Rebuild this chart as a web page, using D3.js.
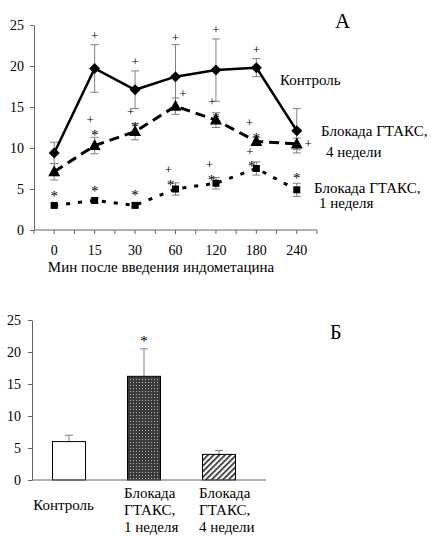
<!DOCTYPE html>
<html><head><meta charset="UTF-8"><script src="https://cdnjs.cloudflare.com/ajax/libs/d3/7.8.5/d3.min.js"></script></head>
<body style="margin:0">
<script>
// ---- panel A data ----
const minutes = ["0", "15", "30", "60", "120", "180", "240"];
const control = [9.4, 19.7, 17.1, 18.7, 19.5, 19.8, 12.1];
const controlErr = [1.3, 2.9, 2.3, 3.9, 3.8, 1.1, 2.7];
const weeks4 = [7.1, 10.3, 12.0, 15.1, 13.4, 10.8, 10.5];
const weeks4Err = [1.0, 1.0, 1.0, 1.0, 0.9, 0.5, 0.7];
const week1 = [3.0, 3.6, 3.0, 5.0, 5.7, 7.5, 4.9];
const week1Err = [0.2, 0.3, 0.2, 0.75, 0.7, 0.8, 0.8];
// significance marks (value on y scale where the mark sits, null = none)
const controlPlus = [null, 23.7, 20.5, 23.5, 24.4, 22.0, null];
const weeks4Plus = [null, 13.4, 14.4, 16.6, 15.7, 13.1, 10.5];
const weeks4Star = [null, 12.0, 13.0, null, 14.1, 11.6, null];
const week1Plus = [null, null, null, 7.4, 8.0, 9.6, null];
const week1Star = [4.6, 5.2, 4.7, 5.9, 6.5, 8.2, 6.7];
const yTicksA = [0, 5, 10, 15, 20, 25];

// ---- panel Б data ----
const groups = [["Контроль"], ["Блокада", "ГТАКС,", "1 неделя"], ["Блокада", "ГТАКС,", "4 недели"]];
const barValues = [6.0, 16.2, 4.0];
const barErr = [1.0, 4.3, 0.6];
const barStar = [null, 22.2, null];
const yTicksB = [0, 5, 10, 15, 20, 25];

const FONT = "Liberation Serif";
const ERR = "#808080";
const svg = d3.select("body").append("svg")
  .attr("width", 434).attr("height", 536)
  .attr("font-family", FONT);

const defs = svg.append("defs");
const p1 = defs.append("pattern").attr("id", "grid").attr("patternUnits", "userSpaceOnUse")
  .attr("width", 3).attr("height", 3);
p1.append("rect").attr("width", 3).attr("height", 3).attr("fill", "#3a3a3a");
p1.append("rect").attr("x", 1).attr("y", 1).attr("width", 1).attr("height", 1).attr("fill", "#b0b0b0");
const p2 = defs.append("pattern").attr("id", "diag").attr("patternUnits", "userSpaceOnUse")
  .attr("width", 4).attr("height", 4).attr("patternTransform", "rotate(45)");
p2.append("rect").attr("width", 4).attr("height", 4).attr("fill", "#fff");
p2.append("rect").attr("width", 1.6).attr("height", 4).attr("fill", "#222");

// ================= panel A =================
const x = d3.scaleBand().domain(minutes).range([34, 317]);
const y = d3.scaleLinear().domain([0, 25]).range([230, 25]);
const cx = d => x(d) + x.bandwidth() / 2;

const gA = svg.append("g");

const yAxis = gA.append("g").attr("transform", "translate(34,0)")
  .call(d3.axisLeft(y).tickValues(yTicksA).tickSize(4).tickSizeOuter(0).tickPadding(6));
yAxis.attr("font-family", FONT).attr("font-size", 14);
yAxis.select(".domain").attr("stroke", "#666");
yAxis.selectAll(".tick line").attr("stroke", "#666");

// x axis: ticks at centres and band edges
gA.append("line").attr("x1", 34).attr("x2", 317).attr("y1", y(0)).attr("y2", y(0))
  .attr("stroke", "#666");
const xt = [];
minutes.forEach(m => { xt.push(x(m)); xt.push(cx(m)); });
xt.push(x(minutes[minutes.length - 1]) + x.bandwidth());
gA.selectAll(".xt").data(xt).enter().append("line")
  .attr("x1", d => d).attr("x2", d => d).attr("y1", y(0)).attr("y2", y(0) + 4)
  .attr("stroke", "#666");
gA.selectAll(".xl").data(minutes).enter().append("text")
  .attr("x", cx).attr("y", 255).attr("font-size", 14)
  .attr("text-anchor", "middle").text(d => d);
gA.append("text").attr("x", 161).attr("y", 272).attr("text-anchor", "middle")
  .attr("font-size", 15).text("Мин после введения индометацина");

function errBars(vals, errs) {
  const g = gA.append("g").attr("stroke", ERR).attr("stroke-width", 1);
  vals.forEach((v, i) => {
    const xc = cx(minutes[i]);
    const top = y(v + errs[i]), bot = y(v - errs[i]);
    g.append("line").attr("x1", xc).attr("x2", xc).attr("y1", top).attr("y2", bot);
    g.append("line").attr("x1", xc - 4).attr("x2", xc + 4).attr("y1", top).attr("y2", top);
    g.append("line").attr("x1", xc - 4).attr("x2", xc + 4).attr("y1", bot).attr("y2", bot);
  });
}
errBars(control, controlErr);
errBars(weeks4, weeks4Err);
errBars(week1, week1Err);

const line = d3.line().x((d, i) => cx(minutes[i])).y(d => y(d));
gA.append("path").datum(control).attr("d", line)
  .attr("fill", "none").attr("stroke", "#000").attr("stroke-width", 2.5);
gA.append("path").datum(weeks4).attr("d", line)
  .attr("fill", "none").attr("stroke", "#000").attr("stroke-width", 3)
  .attr("stroke-dasharray", "10,6");
gA.append("path").datum(week1).attr("d", line)
  .attr("fill", "none").attr("stroke", "#000").attr("stroke-width", 3)
  .attr("stroke-dasharray", "4,8");

// markers
gA.selectAll(".dia").data(control).enter().append("path")
  .attr("d", (d, i) => { const a = cx(minutes[i]), b = y(d);
    return `M${a},${b - 5.5}L${a + 5.5},${b}L${a},${b + 5.5}L${a - 5.5},${b}Z`; })
  .attr("fill", "#000");
gA.selectAll(".tri").data(weeks4).enter().append("path")
  .attr("d", (d, i) => { const a = cx(minutes[i]), b = y(d);
    return `M${a},${b - 6.5}L${a + 6},${b + 4.5}L${a - 6},${b + 4.5}Z`; })
  .attr("fill", "#000");
gA.selectAll(".sq").data(week1).enter().append("rect")
  .attr("x", (d, i) => cx(minutes[i]) - 3.5).attr("y", d => y(d) - 3.5)
  .attr("width", 7).attr("height", 7).attr("fill", "#000");

// significance marks
function marks(vals, sym, nudge) {
  vals.forEach((v, i) => {
    if (v === null) return;
    gA.append("text")
      .attr("x", cx(minutes[i]) + nudge[i]).attr("y", y(v))
      .attr("dy", sym === "*" ? "0.55em" : "0.33em")
      .attr("text-anchor", "middle")
      .attr("font-size", sym === "*" ? 15 : 13)
      .text(sym);
  });
}
marks(controlPlus, "+", [0, 0, 0, 0, 0, 0, 0]);
marks(weeks4Plus, "+", [0, -4.5, -4.5, 7.5, -4, -7, 11.5]);
marks(weeks4Star, "*", [0, 0, 0, 0, 0, 0, 0]);
marks(week1Plus, "+", [0, 0, 0, -7, -6.5, -6.5, 0]);
marks(week1Star, "*", [0, 0, 0, -5, -4.5, -4.5, 0]);

// series labels
const lab = (t, xx, yy, fs) => gA.append("text").attr("x", xx).attr("y", yy)
  .attr("font-size", fs || 15).text(t);
lab("А", 335, 28, 21);
lab("Контроль", 280, 85);
lab("Блокада ГТАКС,", 321, 136);
lab("4 недели", 326, 157);
lab("Блокада ГТАКС,", 314, 193);
lab("1 неделя", 319, 208);

// ================= panel Б =================
const xb = d3.scaleBand().domain(d3.range(groups.length)).range([32, 257]);
const yb = d3.scaleLinear().domain([0, 25]).range([480, 320]);
const gB = svg.append("g");

const yAxisB = gB.append("g").attr("transform", "translate(32,0)")
  .call(d3.axisLeft(yb).tickValues(yTicksB).tickSize(4).tickSizeOuter(0).tickPadding(7));
yAxisB.attr("font-family", FONT).attr("font-size", 14);
yAxisB.select(".domain").attr("stroke", "#666");
yAxisB.selectAll(".tick line").attr("stroke", "#666");

const barW = 33;
const fills = ["#fff", "url(#grid)", "url(#diag)"];
barValues.forEach((v, i) => {
  const xc = xb(i) + xb.bandwidth() / 2 - 0.5;
  const top = yb(v + barErr[i]);
  gB.append("line").attr("stroke", ERR).attr("x1", xc).attr("x2", xc).attr("y1", top).attr("y2", yb(v));
  gB.append("line").attr("stroke", ERR).attr("x1", xc - 4).attr("x2", xc + 4).attr("y1", top).attr("y2", top);
  gB.append("rect").attr("x", xc - barW / 2).attr("y", yb(v))
    .attr("width", barW).attr("height", yb(0) - yb(v))
    .attr("fill", fills[i]).attr("stroke", "#000").attr("stroke-width", 1);
  if (barStar[i] !== null)
    gB.append("text").attr("x", xc).attr("y", yb(barStar[i])).attr("dy", "0.55em")
      .attr("text-anchor", "middle").attr("font-size", 15).text("*");
});
gB.append("line").attr("x1", 32).attr("x2", 266).attr("y1", yb(0)).attr("y2", yb(0))
  .attr("stroke", "#666");

groups.forEach((lines, i) => {
  const t = gB.append("text").attr("font-size", 15);
  if (lines.length === 1) {
    t.attr("x", xb(i) + xb.bandwidth() / 2 - 6).attr("y", 510).attr("text-anchor", "middle").text(lines[0]);
  } else {
    lines.forEach((s, k) => t.append("tspan").attr("x", xb(i) + 17).attr("y", 498 + k * 17).text(s));
  }
});
gB.append("text").attr("x", 330).attr("y", 339).attr("font-size", 20).text("Б");

svg.selectAll("text").attr("font-family", FONT).attr("fill", "#000");
</script>
</body></html>
